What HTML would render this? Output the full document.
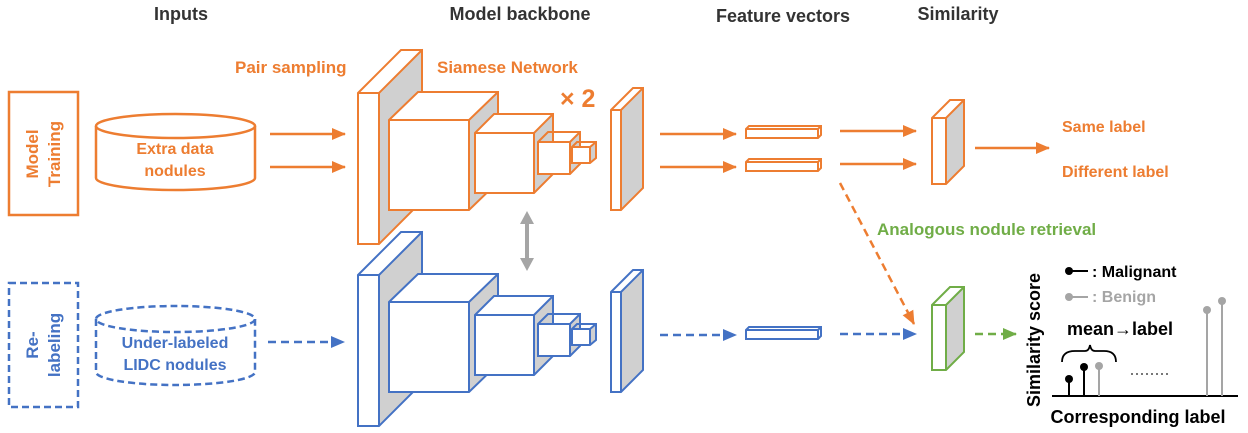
<!DOCTYPE html>
<html><head><meta charset="utf-8"><style>
html,body{margin:0;padding:0;background:#fff}
svg{display:block;font-family:"Liberation Sans","Noto Sans CJK SC",sans-serif}
</style></head><body>
<svg width="1248" height="433" viewBox="0 0 1248 433" xmlns="http://www.w3.org/2000/svg">
<defs>
<marker id="ao" markerWidth="14" markerHeight="12" refX="13" refY="6" orient="auto" markerUnits="userSpaceOnUse"><path d="M0,0L14,6L0,12z" fill="#ED7D31"/></marker>
<marker id="ab" markerWidth="14" markerHeight="12" refX="13" refY="6" orient="auto" markerUnits="userSpaceOnUse"><path d="M0,0L14,6L0,12z" fill="#4472C4"/></marker>
<marker id="ag" markerWidth="14" markerHeight="12" refX="13" refY="6" orient="auto" markerUnits="userSpaceOnUse"><path d="M0,0L14,6L0,12z" fill="#70AD47"/></marker>
<g id="net">
<path d="M379,93 L422,50 L422,201 L379,244Z" fill="#D0D0D0"/>
<path d="M358,93 L401,50 L422,50 L379,93Z" fill="#fff"/>
<rect x="358" y="93" width="21" height="151" fill="#fff"/>
<path d="M358,93 L401,50 L422,50 L422,201 L379,244 L358,244Z M358,93 L379,93 L422,50 M379,93 L379,244" fill="none" stroke-width="2"/>
<path d="M469,120 L498,92 L498,182 L469,210Z" fill="#D0D0D0"/>
<path d="M389,120 L418,92 L498,92 L469,120Z" fill="#fff"/>
<rect x="389" y="120" width="80" height="90" fill="#fff"/>
<path d="M389,120 L418,92 L498,92 L498,182 L469,210 L389,210Z M389,120 L469,120 L498,92 M469,120 L469,210" fill="none" stroke-width="2"/>
<path d="M534,133 L553,114 L553,174 L534,193Z" fill="#D0D0D0"/>
<path d="M475,133 L494,114 L553,114 L534,133Z" fill="#fff"/>
<rect x="475" y="133" width="59" height="60" fill="#fff"/>
<path d="M475,133 L494,114 L553,114 L553,174 L534,193 L475,193Z M475,133 L534,133 L553,114 M534,133 L534,193" fill="none" stroke-width="2"/>
<path d="M570,142 L580,132 L580,164 L570,174Z" fill="#D0D0D0"/>
<rect x="538" y="142" width="32" height="32" fill="#fff"/>
<path d="M538,142 L548,132 L580,132 L580,164 L570,174 L538,174Z M538,142 L570,142 L580,132 M570,142 L570,174" fill="none" stroke-width="2"/>
<path d="M590,147 L596,142 L596,158 L590,163Z" fill="#D0D0D0"/>
<rect x="572" y="147" width="18" height="16" fill="#fff"/>
<path d="M572,147 L577,142 L596,142 L596,158 L590,163 L572,163Z M572,147 L590,147 L596,142 M590,147 L590,163" fill="none" stroke-width="2"/>
<path d="M621,110 L643,88 L643,188 L621,210Z" fill="#D0D0D0"/>
<rect x="611" y="110" width="10" height="100" fill="#fff"/>
<path d="M611,110 L633,88 L643,88 L643,188 L621,210 L611,210Z M611,110 L621,110 L643,88 M621,110 L621,210" fill="none" stroke-width="2"/>
</g>
</defs>

<g font-size="18" fill="#333" text-anchor="middle" font-weight="bold">
<text x="181" y="20">Inputs</text>
<text x="520" y="20">Model backbone</text>
<text x="783" y="22">Feature vectors</text>
<text x="958" y="20">Similarity</text>
</g>

<rect x="9" y="92" width="69" height="123" fill="none" stroke="#ED7D31" stroke-width="2.5"/>
<g font-size="17" fill="#ED7D31" text-anchor="middle" font-weight="bold">
<text transform="translate(38,154) rotate(-90)">Model</text>
<text transform="translate(60,154) rotate(-90)">Training</text>
</g>
<rect x="9" y="283" width="69" height="124" fill="none" stroke="#4472C4" stroke-width="2.5" stroke-dasharray="7,4"/>
<g font-size="17" fill="#4472C4" text-anchor="middle" font-weight="bold">
<text transform="translate(38,345) rotate(-90)">Re-</text>
<text transform="translate(60,345) rotate(-90)">labeling</text>
</g>

<g fill="none" stroke="#ED7D31" stroke-width="2.5">
<ellipse cx="175.5" cy="126" rx="79.5" ry="12"/>
<path d="M96,126 L96,178 A79.5,12 0 0 0 255,178 L255,126"/>
</g>
<g font-size="16" fill="#ED7D31" text-anchor="middle" font-weight="bold">
<text x="175" y="154">Extra data</text><text x="175" y="176">nodules</text>
</g>
<g fill="none" stroke="#4472C4" stroke-width="2.5" stroke-dasharray="7,4">
<ellipse cx="175.5" cy="319" rx="79.5" ry="13"/>
<path d="M96,319 L96,372 A79.5,13 0 0 0 255,372 L255,319"/>
</g>
<g font-size="16" fill="#4472C4" text-anchor="middle" font-weight="bold">
<text x="175" y="348">Under-labeled</text><text x="175" y="370">LIDC nodules</text>
</g>

<g stroke="#ED7D31" stroke-width="2.5">
<line x1="270" y1="134" x2="345" y2="134" marker-end="url(#ao)"/>
<line x1="270" y1="167" x2="345" y2="167" marker-end="url(#ao)"/>
</g>
<line x1="268" y1="342" x2="344" y2="342" stroke="#4472C4" stroke-width="2.5" stroke-dasharray="8,5" marker-end="url(#ab)"/>

<g font-size="17" fill="#ED7D31" font-weight="bold">
<text x="235" y="73">Pair sampling</text>
<text x="437" y="73">Siamese Network</text>
<text x="560" y="107" font-size="25">× 2</text>
</g>

<use href="#net" stroke="#ED7D31"/>
<use href="#net" stroke="#4472C4" transform="translate(0,182)"/>

<line x1="527" y1="222" x2="527" y2="260" stroke="#A5A5A5" stroke-width="4"/>
<path d="M520,224 L527,211 L534,224Z M520,258 L527,271 L534,258Z" fill="#A5A5A5"/>

<g stroke="#ED7D31" stroke-width="2.5">
<line x1="660" y1="134" x2="736" y2="134" marker-end="url(#ao)"/>
<line x1="660" y1="167" x2="736" y2="167" marker-end="url(#ao)"/>
<line x1="840" y1="131" x2="916" y2="131" marker-end="url(#ao)"/>
<line x1="840" y1="164" x2="916" y2="164" marker-end="url(#ao)"/>
<line x1="975" y1="148" x2="1049" y2="148" marker-end="url(#ao)"/>
</g>
<g stroke="#4472C4" stroke-width="2.5" stroke-dasharray="8,5">
<line x1="660" y1="335" x2="736" y2="335" marker-end="url(#ab)"/>
<line x1="840" y1="334" x2="916" y2="334" marker-end="url(#ab)"/>
</g>
<line x1="840" y1="183" x2="914" y2="324" stroke="#ED7D31" stroke-width="2.5" stroke-dasharray="8,5" marker-end="url(#ao)"/>
<line x1="975" y1="334" x2="1016" y2="334" stroke="#70AD47" stroke-width="2.5" stroke-dasharray="8,5" marker-end="url(#ag)"/>

<g fill="#fff" stroke-width="2">
<path d="M746,129 L749,126 L821,126 L821,135 L818,138 L746,138Z M746,129 L818,129 L821,126 M818,129 L818,138" stroke="#ED7D31"/>
<path d="M746,162 L749,159 L821,159 L821,168 L818,171 L746,171Z M746,162 L818,162 L821,159 M818,162 L818,171" stroke="#ED7D31"/>
<path d="M746,330 L749,327 L821,327 L821,336 L818,339 L746,339Z M746,330 L818,330 L821,327 M818,330 L818,339" stroke="#4472C4"/>
</g>

<g stroke-width="2">
<path d="M946,118 L964,100 L964,166 L946,184Z" fill="#D0D0D0" stroke="none"/>
<path d="M932,118 L950,100 L964,100 L964,166 L946,184 L932,184Z M932,118 L946,118 L964,100 M946,118 L946,184" fill="none" stroke="#ED7D31"/>
<path d="M946,305 L964,287 L964,352 L946,370Z" fill="#D0D0D0" stroke="none"/>
<path d="M932,305 L950,287 L964,287 L964,352 L946,370 L932,370Z M932,305 L946,305 L964,287 M946,305 L946,370" fill="none" stroke="#70AD47"/>
</g>

<g font-size="16" fill="#ED7D31" font-weight="bold">
<text x="1062" y="132">Same label</text>
<text x="1062" y="177">Different label</text>
</g>
<text x="877" y="235" font-size="17" fill="#70AD47" font-weight="bold">Analogous nodule retrieval</text>

<text transform="translate(1040,340) rotate(-90)" font-size="18" fill="#000" text-anchor="middle" font-weight="bold">Similarity score</text>
<line x1="1052" y1="396" x2="1238" y2="396" stroke="#000" stroke-width="2"/>
<g stroke-width="2">
<line x1="1069" y1="396" x2="1069" y2="379" stroke="#000"/><circle cx="1069" cy="379" r="4" fill="#000"/>
<line x1="1084" y1="396" x2="1084" y2="367" stroke="#000"/><circle cx="1084" cy="367" r="4" fill="#000"/>
<line x1="1099" y1="396" x2="1099" y2="366" stroke="#A5A5A5"/><circle cx="1099" cy="366" r="4" fill="#A5A5A5"/>
<line x1="1207" y1="396" x2="1207" y2="310" stroke="#A5A5A5"/><circle cx="1207" cy="310" r="4" fill="#A5A5A5"/>
<line x1="1222" y1="396" x2="1222" y2="301" stroke="#A5A5A5"/><circle cx="1222" cy="301" r="4" fill="#A5A5A5"/>
<line x1="1069" y1="271" x2="1088" y2="271" stroke="#000"/><circle cx="1069" cy="271" r="4" fill="#000"/>
<line x1="1069" y1="297" x2="1088" y2="297" stroke="#A5A5A5"/><circle cx="1069" cy="297" r="4" fill="#A5A5A5"/>
</g>
<text x="1092" y="277" font-size="16" fill="#000" font-weight="bold">: Malignant</text>
<text x="1092" y="302" font-size="16" fill="#A5A5A5" font-weight="bold">: Benign</text>
<text x="1067" y="335" font-size="18" fill="#000" font-weight="bold">mean→label</text>
<path d="M1062,362 Q1062,351 1075,351 L1085,351 Q1089,351 1090,345 Q1091,351 1095,351 L1104,351 Q1116,351 1116,362" fill="none" stroke="#000" stroke-width="1.8"/>
<line x1="1131" y1="374" x2="1168" y2="374" stroke="#777" stroke-width="2" stroke-dasharray="2,3"/>
<text x="1138" y="423" font-size="18" fill="#000" text-anchor="middle" font-weight="bold">Corresponding label</text>
</svg>
</body></html>
